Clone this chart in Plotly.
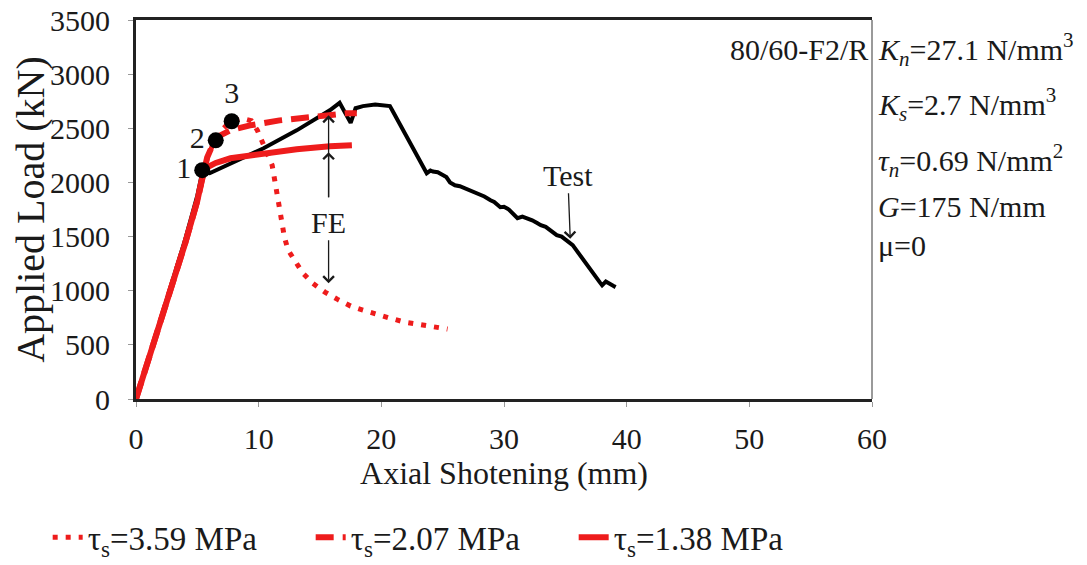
import plotly.graph_objects as go

# ---------------- data ----------------
test_x = [0, 1, 2, 3, 4, 5, 5.4, 6.0, 7.7, 10.4, 13.1, 15.8, 16.6, 17.1, 17.5, 17.9, 18.5, 19.5,
          20.2, 20.7, 20.9, 21.4, 21.8, 22.3, 22.7, 23.2, 23.7, 24.0, 24.2, 24.6, 25.0, 25.3, 25.6,
          26.0, 26.4, 26.8, 27.2, 27.5, 28.0, 28.4, 28.9, 29.2, 29.7, 30.0, 30.4, 30.8, 31.1, 31.5,
          31.9, 32.3, 32.7, 33.0, 33.4, 33.8, 34.3, 34.7, 35.1, 35.6, 37.8, 38.0, 38.3, 38.6, 38.9, 39.1]
test_y = [0, 360, 730, 1100, 1470, 1880, 2094, 2085, 2177, 2315, 2481, 2666, 2735, 2640, 2550, 2685,
          2705, 2720, 2715, 2705, 2665, 2560, 2480, 2390, 2297, 2200, 2085, 2110, 2100, 2095, 2066,
          2050, 2000, 1974, 1965, 1945, 1925, 1910, 1895, 1870, 1836, 1820, 1771, 1775, 1750, 1705,
          1670, 1685, 1670, 1650, 1625, 1605, 1590, 1560, 1513, 1500, 1465, 1421, 1079, 1050, 1085,
          1070, 1045, 1033]

fe138_x = [0, 1, 2, 3, 4, 5, 5.45, 5.8, 6.5, 7.7, 10.4, 13.1, 15.8, 17.6]
fe138_y = [0, 350, 705, 1065, 1435, 1830, 2070, 2140, 2180, 2223, 2269, 2306, 2334, 2343]

fe207_x = [0, 1, 2, 3, 4, 5, 5.45, 5.8, 6.3, 6.8, 7.7, 9.3, 11.7, 14.4, 17.2, 18.0]
fe207_y = [0, 350, 705, 1065, 1435, 1830, 2070, 2230, 2360, 2430, 2481, 2527, 2573, 2610, 2638, 2640]

fe359_x = [0, 1, 2, 3, 4, 5, 5.45, 5.8, 6.3, 6.8, 7.4, 8.0, 8.7, 9.4, 9.9, 10.3, 10.7, 11.1, 11.4,
           11.8, 12.1, 12.4, 13.0, 13.6, 14.4, 15.4, 16.4, 17.5, 18.5, 19.7, 20.7, 21.9, 23.0, 24.1, 25.4]
fe359_y = [0, 350, 705, 1065, 1435, 1830, 2070, 2220, 2360, 2460, 2530, 2570, 2590, 2570, 2480, 2380,
           2278, 2159, 1960, 1700, 1494, 1375, 1264, 1162, 1070, 987, 922, 858, 821, 775, 747, 710,
           692, 664, 646]

pts_x = [5.4, 6.5, 7.8]
pts_y = [2113, 2389, 2565]
pts_label = ["1", "2", "3"]

legend_names = ["τ<sub>s</sub>=3.59 MPa", "τ<sub>s</sub>=2.07 MPa", "τ<sub>s</sub>=1.38 MPa"]

x_ticks = [0, 10, 20, 30, 40, 50, 60]
y_ticks = [0, 500, 1000, 1500, 2000, 2500, 3000, 3500]

FONT = "Liberation Serif, Times New Roman, serif"
RED = "#ee1c1c"
INK = "#1a1a1a"
FS = 30

fig = go.Figure()

fig.add_trace(go.Scatter(x=test_x, y=test_y, mode="lines", showlegend=False,
                         line=dict(color="#000000", width=4)))
fig.add_trace(go.Scatter(x=fe359_x, y=fe359_y, mode="lines", name=legend_names[0],
                         line=dict(color=RED, width=5, dash="5px,8px")))
fig.add_trace(go.Scatter(x=fe207_x, y=fe207_y, mode="lines", name=legend_names[1],
                         line=dict(color=RED, width=6, dash="18px,9px")))
fig.add_trace(go.Scatter(x=fe138_x, y=fe138_y, mode="lines", name=legend_names[2],
                         line=dict(color=RED, width=6)))
fig.add_trace(go.Scatter(x=pts_x, y=pts_y, mode="markers+text", showlegend=False,
                         text=pts_label,
                         textposition=["middle left", "middle left", "top center"],
                         textfont=dict(family=FONT, size=FS, color=INK),
                         marker=dict(color="#000000", size=16)))

ann_font = dict(family=FONT, size=FS, color=INK)
annotations = [
    # FE arrows
    dict(x=15.7, y=1070, ax=15.7, ay=1633, xref="x", yref="y", axref="x", ayref="y",
         text="FE", font=ann_font, showarrow=True, arrowhead=4, arrowsize=1.6,
         arrowwidth=1.3, arrowcolor=INK),
    dict(x=15.7, y=2620, ax=15.7, ay=1850, xref="x", yref="y", axref="x", ayref="y",
         text="", showarrow=True, arrowhead=4, arrowsize=1.6, arrowwidth=1.3, arrowcolor=INK),
    dict(x=15.7, y=2279, ax=15.7, ay=1850, xref="x", yref="y", axref="x", ayref="y",
         text="", showarrow=True, arrowhead=4, arrowsize=1.6, arrowwidth=1.3, arrowcolor=INK),
    # Test arrow
    dict(x=35.4, y=1480, ax=35.2, ay=2066, xref="x", yref="y", axref="x", ayref="y",
         text="Test", font=ann_font, showarrow=True, arrowhead=4, arrowsize=1.6,
         arrowwidth=1.3, arrowcolor=INK),
    # specimen + parameters
    dict(x=0.997, y=0.921, xref="paper", yref="paper", xanchor="right", yanchor="middle",
         text="80/60-F2/R", showarrow=False, font=ann_font),
    dict(x=1.006, y=0.921, xref="paper", yref="paper", xanchor="left", yanchor="middle",
         text="<i>K</i><sub><i>n</i></sub>=27.1 N/mm<sup>3</sup>", showarrow=False, font=ann_font),
    dict(x=1.006, y=0.776, xref="paper", yref="paper", xanchor="left", yanchor="middle",
         text="<i>K</i><sub><i>s</i></sub>=2.7 N/mm<sup>3</sup>", showarrow=False, font=ann_font),
    dict(x=1.006, y=0.630, xref="paper", yref="paper", xanchor="left", yanchor="middle",
         text="<i>τ</i><sub><i>n</i></sub>=0.69 N/mm<sup>2</sup>", showarrow=False, font=ann_font),
    dict(x=1.006, y=0.507, xref="paper", yref="paper", xanchor="left", yanchor="middle",
         text="<i>G</i>=175 N/mm", showarrow=False, font=ann_font),
    dict(x=1.006, y=0.406, xref="paper", yref="paper", xanchor="left", yanchor="middle",
         text="μ=0", showarrow=False, font=ann_font),
]

# figure sized to fit inside the page's default 8px body margin
fig.update_layout(
    width=1079, height=557,
    margin=dict(l=128, r=215, t=12, b=166, autoexpand=False),
    paper_bgcolor="white", plot_bgcolor="white",
    font=dict(family=FONT, size=FS, color=INK),
    annotations=annotations,
    shapes=[dict(type="line", xref="paper", yref="paper", x0=1, x1=1, y0=0, y1=1,
                 line=dict(color="#9a9a9a", width=2))],
    legend=dict(orientation="h", x=-0.12, y=-0.365, xanchor="left", yanchor="middle",
                font=dict(family=FONT, size=33, color=INK), entrywidth=218,
                itemwidth=30, bgcolor="rgba(0,0,0,0)"),
    xaxis=dict(range=[0, 60], tickvals=x_ticks, showgrid=False, zeroline=False,
               showline=True, linecolor="#222222", linewidth=3, mirror=True,
               ticks="outside", ticklen=5, tickcolor="#999999", automargin=False,
               ticklabeloverflow="allow",
               tickfont=dict(family=FONT, size=FS, color=INK), ticklabelstandoff=6,
               title=dict(text="Axial Shotening (mm)", standoff=6,
                          font=dict(family=FONT, size=32, color=INK))),
    yaxis=dict(range=[0, 3500], tickvals=y_ticks, showgrid=False, zeroline=False,
               showline=True, linecolor="#222222", linewidth=3, automargin=False,
               ticklabeloverflow="allow",
               ticks="outside", ticklen=5, tickcolor="#999999",
               tickfont=dict(family=FONT, size=FS, color=INK), ticklabelstandoff=12,
               title=dict(text="Applied Load (kN)", standoff=0,
                          font=dict(family=FONT, size=40, color=INK))),
)

fig.write_html("out.html")
